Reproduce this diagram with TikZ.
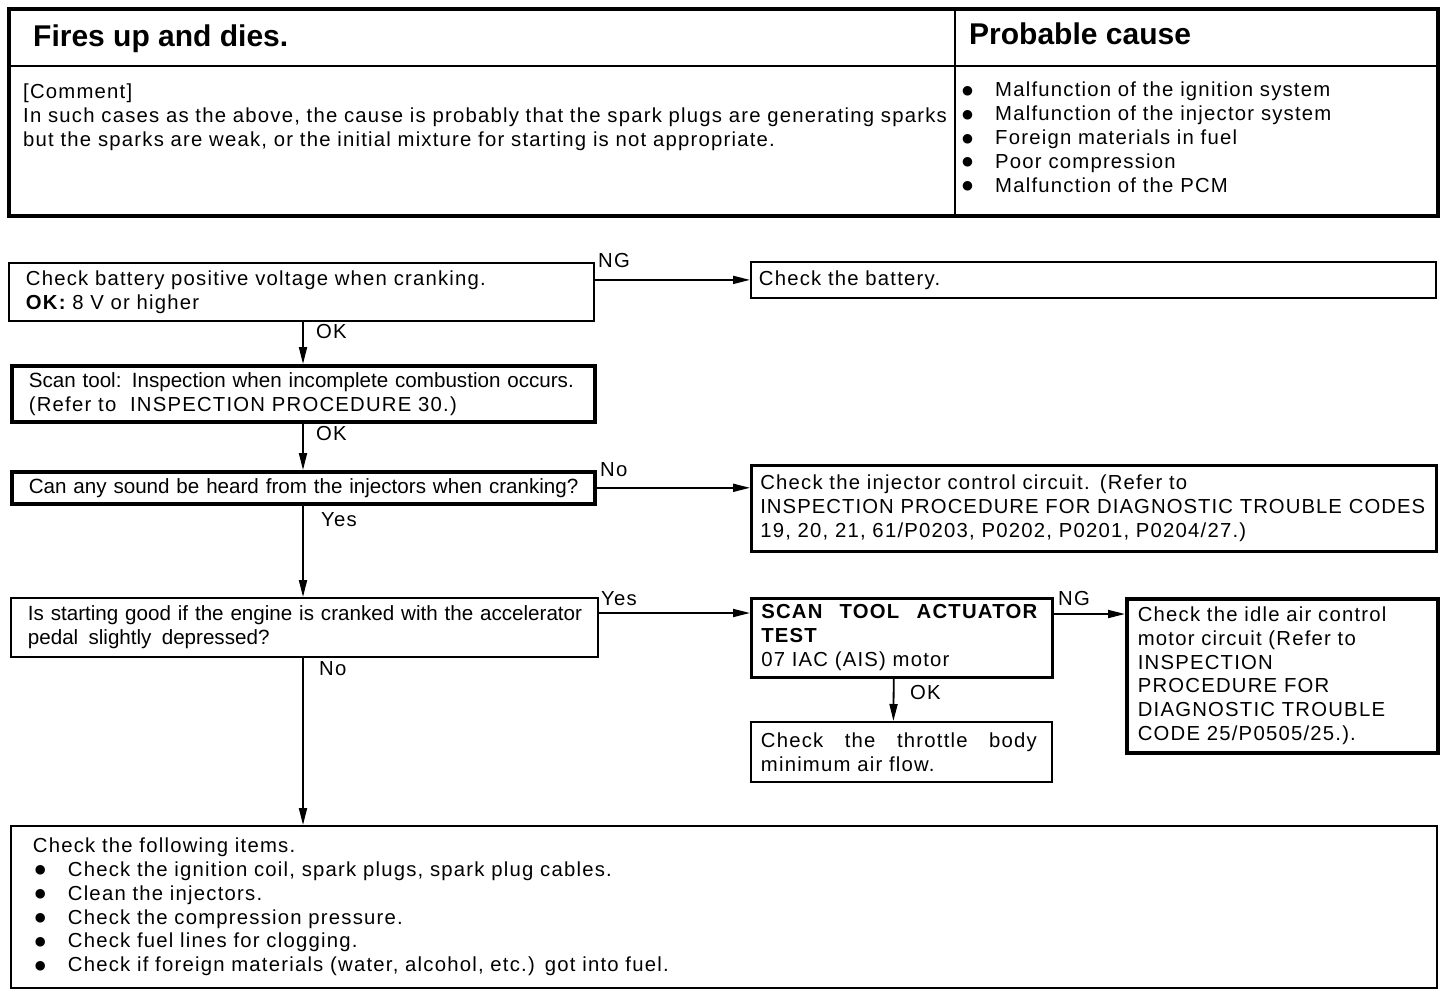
\documentclass[tikz,border=0pt]{standalone}
\usepackage{fontspec}
\usepackage{graphicx}
\setmainfont{Liberation Sans}
\newfontfamily\mainf[LetterSpace=6,WordSpace=1.5]{Liberation Sans}
\newfontfamily\condf{Liberation Sans}
\newfontfamily\bulf{DejaVu Sans}
\usetikzlibrary{arrows.meta}
\newcommand\fmain{\mainf\fontsize{20.3}{23.8}\selectfont}
\newcommand\fcond{\condf\fontsize{20.6}{23.8}\selectfont}
\newcommand\mybul{\makebox[33pt][l]{\raisebox{2.5pt}{\bulf\fontsize{12.5}{12.5}\selectfont ●}}}
\newcommand\ml[1]{\mbox{#1}}
\begin{document}
\begin{tikzpicture}[x=1pt,y=-1pt,
  box/.style={draw, anchor=north west, inner ysep=0pt, align=left, line width=1.8pt, font=\fmain},
  thick box/.style={box, line width=3.6pt},
  mid box/.style={box, line width=2.5pt},
  arr/.style={line width=1.8pt, -{Triangle[length=17pt,width=8pt]}},
  lbl/.style={anchor=base west, inner sep=0pt, font=\fmain},
  rule/.style={line width=1.8pt},
]
\useasboundingbox (0,0) rectangle (1456,994);

% ---------- header table ----------
\node[draw, line width=3.6pt, anchor=north west, minimum width=1429pt, minimum height=207pt, inner sep=0pt] (hdr) at (7,7) {};
\coordinate (hdiv) at (0,66);
\coordinate (vdiv) at (955,0);
\draw[rule] (hdr.west |- hdiv) -- (hdr.east |- hdiv);
\draw[rule] (hdr.north -| vdiv) -- (hdr.south -| vdiv);

\node[anchor=base west, inner sep=0pt, font=\condf\bfseries\fontsize{30}{34}\selectfont] (title) at (33,46) {Fires up and dies.};
\node[anchor=base west, inner sep=0pt, font=\condf\bfseries\fontsize{30}{34}\selectfont] (pctitle) at (969,44) {Probable cause};

\node[anchor=north west, inner sep=0pt, text width=930pt, align=left, font=\fmain] (comment) at (23,84)
  {[Comment]\\
   \ml{In such cases as the above, the cause is probably that the spark plugs are generating sparks}\\
   but the sparks are weak, or the initial mixture for starting is not appropriate.};

\node[anchor=north west, inner sep=0pt, text width=460pt, align=left, font=\fmain] (causes) at (962,82)
  {\mybul Malfunction of the ignition system\\
   \mybul Malfunction of the injector system\\
   \mybul Foreign materials in fuel\\
   \mybul Poor compression\\
   \mybul Malfunction of the PCM};

% ---------- flowchart boxes ----------
\node[box, minimum width=585pt, minimum height=58pt, inner xsep=17pt, text width=551pt] (b1) at (8,262)
  {Check battery positive voltage when cranking.\\ {\bfseries OK:} 8 V or higher};
\node[box, minimum width=685pt, minimum height=36pt, inner xsep=8pt, text width=669pt] (b1r) at (750,261)
  {Check the battery.};

\node[thick box, minimum width=583pt, minimum height=56pt, inner xsep=17pt, text width=549pt, font=\fcond] (b2) at (10,364)
  {\ml{Scan tool: Inspection when incomplete combustion occurs.}\\ \ml{\fmain (Refer to \ INSPECTION PROCEDURE 30.)}};

\node[thick box, minimum width=583pt, minimum height=32pt, inner xsep=17pt, text width=549pt, font=\fcond] (b3) at (10,470)
  {\ml{Can any sound be heard from the injectors when cranking?}};
\node[mid box, minimum width=685pt, minimum height=86pt, inner xsep=9pt, text width=667pt] (b3r) at (750,464)
  {Check the injector control circuit. (Refer to\\
   \ml{\addfontfeature{LetterSpace=5.2}INSPECTION PROCEDURE FOR DIAGNOSTIC TROUBLE CODES}\\
   19, 20, 21, 61/P0203, P0202, P0201, P0204/27.)};

\node[box, minimum width=587pt, minimum height=59pt, inner xsep=17pt, text width=553pt, font=\fcond] (b4) at (10,597)
  {\ml{Is starting good if the engine is cranked with the accelerator}\\ pedal\, slightly\, depressed?};

\node[mid box, minimum width=301pt, minimum height=79pt, inner xsep=10pt, text width=281pt] (b5) at (750,597)
  {\makebox[276pt][l]{\bfseries SCAN\hfill TOOL\hfill ACTUATOR}\\ {\bfseries TEST}\\ 07 IAC (AIS) motor};

\node[thick box, minimum width=311pt, minimum height=154pt, inner xsep=11pt, text width=289pt] (b6) at (1125,597)
  {Check the idle air control\\ motor circuit (Refer to\\ INSPECTION\\ PROCEDURE FOR\\ DIAGNOSTIC TROUBLE\\ CODE 25/P0505/25.).};

\node[box, minimum width=301pt, minimum height=60pt, inner xsep=10pt, text width=281pt] (b7) at (750,721)
  {\makebox[276pt][l]{Check\hfill the\hfill throttle\hfill body}\\ minimum air flow.};

\node[box, minimum width=1426pt, minimum height=162pt, inner xsep=22pt, text width=1382pt] (b8) at (10,825)
  {Check the following items.\\
   \hspace*{2pt}\mybul Check the ignition coil, spark plugs, spark plug cables.\\
   \hspace*{2pt}\mybul Clean the injectors.\\
   \hspace*{2pt}\mybul Check the compression pressure.\\
   \hspace*{2pt}\mybul Check fuel lines for clogging.\\
   \hspace*{2pt}\mybul Check if foreign materials (water, alcohol, etc.) got into fuel.};

% ---------- connectors ----------
\coordinate (vx) at (303,0);
\draw[arr] (b1.south -| vx) -- (b2.north -| vx);
\draw[arr] (b2.south -| vx) -- (b3.north -| vx);
\draw[arr] (b3.south -| vx) -- (b4.north -| vx);
\draw[arr] (b4.south -| vx) -- (b8.north -| vx);

\draw[arr] (b1.east |- b1r.west) -- (b1r.west);
\draw[arr] (b3.east) -- (b3.east -| b3r.west);
\draw[arr] ([yshift=-16pt]b4.north east) -- ([yshift=-16pt]b4.north east -| b5.west);
\draw[arr] ([yshift=-17pt]b5.north east) -- ([yshift=-17pt]b5.north east -| b6.west);
\draw[arr] ([xshift=-8pt]b5.south) -- ([xshift=-8pt]b7.north);

% ---------- labels ----------
\node[lbl] (l1) at (598,267) {NG};
\node[lbl] (l2) at (316,338) {OK};
\node[lbl] (l3) at (316,440) {OK};
\node[lbl] (l4) at (600,476) {No};
\node[lbl] (l5) at (321,526) {Yes};
\node[lbl] (l6) at (601,605) {Yes};
\node[lbl] (l7) at (319,675) {No};
\node[lbl] (l8) at (1058,605) {NG};
\node[lbl] (l9) at (910,699) {OK};
\end{tikzpicture}
\end{document}
